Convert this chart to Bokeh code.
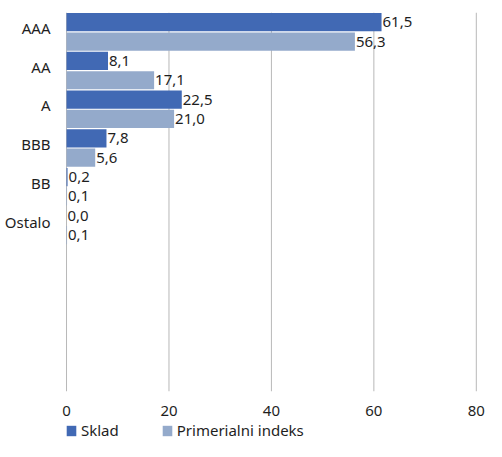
from bokeh.plotting import figure
from bokeh.layouts import column
from bokeh.models import Range1d, FixedTicker, LinearAxis, Legend, LegendItem, ColumnDataSource, Span
from bokeh.core.properties import value
from bokeh.embed import file_html
from bokeh.resources import INLINE

# ---- data ----
categories = ["AAA", "AA", "A", "BBB", "BB", "Ostalo"]
sklad = [61.5, 8.1, 22.5, 7.8, 0.2, 0.0]
indeks = [56.3, 17.1, 21.0, 5.6, 0.1, 0.1]
x_ticks = [0, 20, 40, 60, 80]
series_names = ["Sklad", "Primerialni indeks"]

FONT = "Noto Sans"
C1 = "#4169b4"
C2 = "#94aacb"
TXT = "#1e1e1e"
GRID = "#b8b8b8"
N_SLOTS = 9.79

def fmt(v):
    return f"{v:.1f}".replace(".", ",")

idx = list(range(len(categories)))
src1 = ColumnDataSource(dict(y=[i - 0.25 for i in idx], v=sklad, t=[fmt(v) for v in sklad]))
src2 = ColumnDataSource(dict(y=[i + 0.25 for i in idx], v=indeks, t=[fmt(v) for v in indeks]))

p = figure(width=486, height=418, output_backend="svg", toolbar_location=None,
           x_range=Range1d(-0.2, 81.6), y_range=Range1d(N_SLOTS - 0.5, -0.5),
           y_axis_location=None,
           min_border_left=65, min_border_right=2, min_border_top=12, min_border_bottom=26)
p.outline_line_color = None
p.background_fill_color = "white"
p.border_fill_color = "white"

p.extra_y_ranges = {"lab": Range1d(N_SLOTS - 0.5 + 0.1, -0.5 + 0.1)}

# x axis
p.xaxis.ticker = FixedTicker(ticks=x_ticks)
p.xaxis.axis_line_color = None
p.xaxis.major_tick_line_color = None
p.xaxis.minor_tick_line_color = None
p.xaxis.major_label_text_font = FONT
p.xaxis.major_label_text_font_size = "15px"
p.xaxis.major_label_text_color = TXT
p.xaxis.major_label_standoff = 8

p.xgrid.visible = False
p.ygrid.visible = False
for t in x_ticks:
    p.add_layout(Span(location=t, dimension="height", line_color=GRID, line_width=1, level="underlay"))

# y axis labels
yax = LinearAxis(y_range_name="lab", ticker=FixedTicker(ticks=idx),
                 major_label_overrides={i: c for i, c in zip(idx, categories)})
yax.axis_line_color = None
yax.major_tick_line_color = None
yax.minor_tick_line_color = None
yax.major_label_text_font = FONT
yax.major_label_text_font_size = "15px"
yax.major_label_text_color = TXT
yax.major_label_standoff = 9
p.add_layout(yax, "left")

r1 = p.hbar(y="y", left=0, right="v", height=0.47, source=src1, fill_color=C1, line_color=None)
r2 = p.hbar(y="y", left=0, right="v", height=0.47, source=src2, fill_color=C2, line_color=None)

for s in (src1, src2):
    p.text(x="v", y="y", text="t", source=s, x_offset=1, text_baseline="middle", text_align="left",
           text_font=value(FONT), text_font_size="15px", text_color=TXT)

# ---- legend strip ----
pl = figure(width=486, height=23, output_backend="svg", toolbar_location=None,
            x_range=Range1d(0, 80), y_range=Range1d(100, 101),
            x_axis_location=None, y_axis_location=None,
            min_border_left=0, min_border_right=0, min_border_top=0, min_border_bottom=0)
pl.outline_line_color = None
pl.xgrid.visible = False
pl.ygrid.visible = False
l1 = pl.hbar(y="y", left=0, right="v", height=0.47, source=src1, fill_color=C1, line_color=None)
l2 = pl.hbar(y="y", left=0, right="v", height=0.47, source=src2, fill_color=C2, line_color=None)

legend = Legend(items=[LegendItem(label=series_names[0], renderers=[l1]),
                       LegendItem(label=series_names[1], renderers=[l2])],
                orientation="horizontal", location=(0, 1))
legend.label_text_font = FONT
legend.label_text_font_size = "15px"
legend.label_text_color = TXT
legend.glyph_width = 12
legend.glyph_height = 13
legend.label_height = 16
legend.label_standoff = 4
legend.spacing = 42
legend.padding = 0
legend.margin = 0
legend.border_line_color = None
legend.background_fill_alpha = 0
pl.add_layout(legend)

open("out.html", "w").write(file_html(column(p, pl, spacing=0), INLINE))
